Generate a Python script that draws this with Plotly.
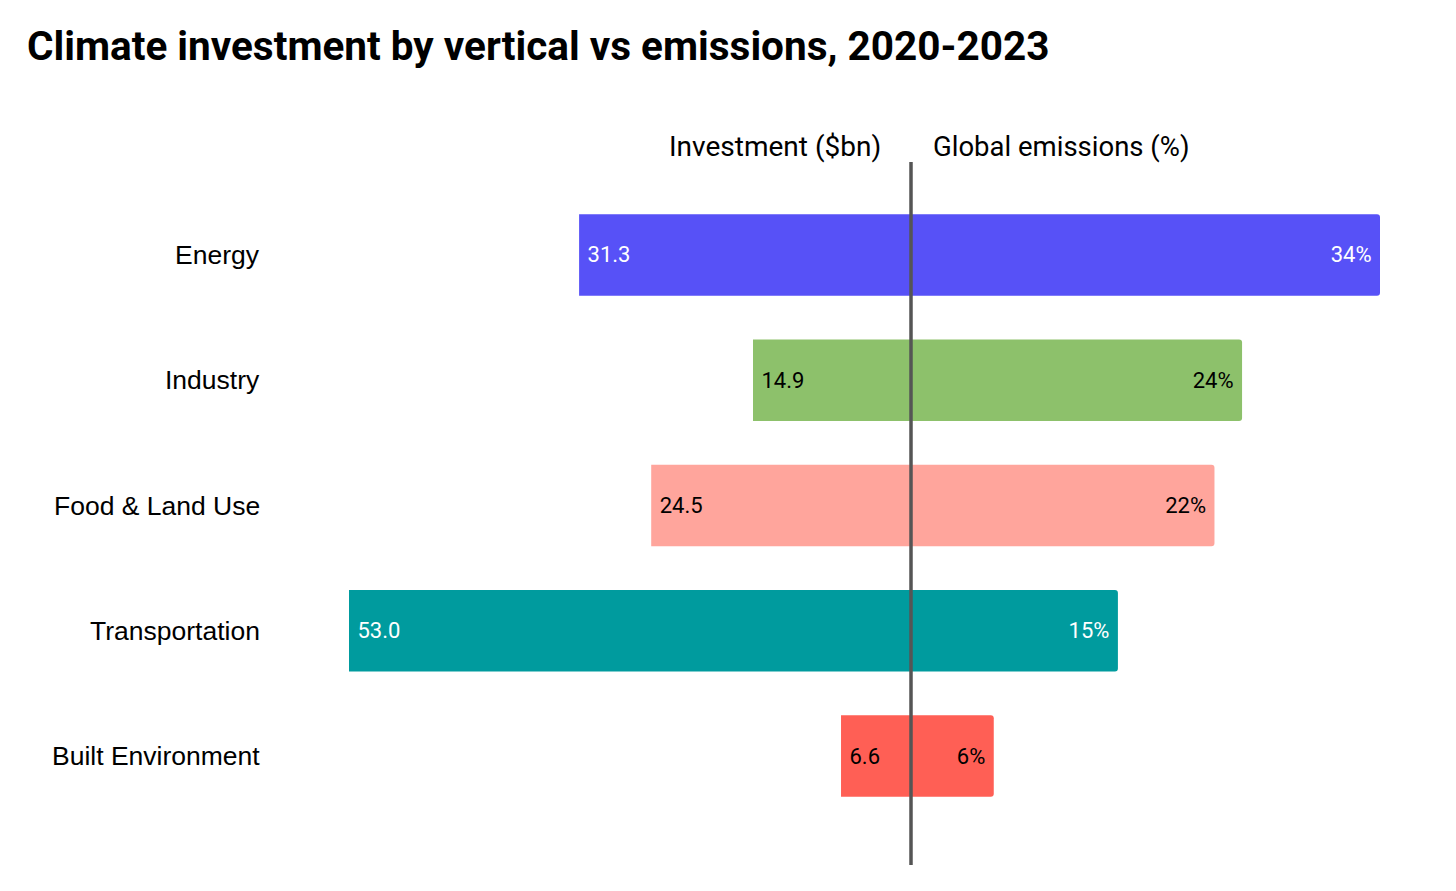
import plotly.graph_objects as go

categories = ["Energy", "Industry", "Food & Land Use", "Transportation", "Built Environment"]
investment_bn = [31.3, 14.9, 24.5, 53.0, 6.6]
emissions_pct = [34, 24, 22, 15, 6]
colors = ["#5751F7", "#8DC16B", "#FFA59C", "#009B9E", "#FF5F55"]
text_colors = ["white", "black", "black", "white", "black"]

OFF = 8  # page body margin
W, H = 1456 - OFF, 891 - OFF


def px(x):
    return (x - OFF) / W


def py(y):
    return 1 - (y - OFF) / H


CENTER = 911
left_px = 300
right_px = 1400
px_per_bn = (CENTER - 349) / 53.0
px_per_pct = (1380 - CENTER) / 34.0
slot = 125.3
y_top, y_bot = 162, 865

fig = go.Figure()
fig.add_trace(go.Bar(
    y=categories, x=investment_bn, orientation="h",
    marker=dict(color=colors, line=dict(width=0)),
    text=[f"&nbsp;{v:.1f}" for v in investment_bn], textposition="inside",
    insidetextanchor="end", textangle=0,
    textfont=dict(family="Roboto", size=22, color=text_colors),
    width=0.65, xaxis="x", yaxis="y", hoverinfo="skip",
))
fig.add_trace(go.Bar(
    y=categories, x=emissions_pct, orientation="h",
    marker=dict(color=colors, line=dict(width=0), cornerradius=3),
    text=[f"{v}%&nbsp;" for v in emissions_pct], textposition="inside",
    insidetextanchor="end", textangle=0,
    textfont=dict(family="Roboto", size=22, color=text_colors),
    width=0.65, xaxis="x2", yaxis="y", hoverinfo="skip",
))

fig.update_layout(
    width=W, height=H,
    margin=dict(l=0, r=0, t=0, b=0),
    plot_bgcolor="white", paper_bgcolor="white",
    showlegend=False,
    uniformtext=dict(mode=False),
    xaxis=dict(domain=[px(left_px), px(CENTER)], range=[(CENTER - left_px) / px_per_bn, 0],
               showgrid=False, zeroline=False, showticklabels=False),
    xaxis2=dict(domain=[px(CENTER), px(right_px)], range=[0, (right_px - CENTER) / px_per_pct],
                showgrid=False, zeroline=False, showticklabels=False, anchor="y"),
    yaxis=dict(domain=[py(y_bot), py(y_top)],
               range=[4 + (y_bot - 756) / slot, -(255 - y_top) / slot],
               showticklabels=False, showgrid=False, zeroline=False,
               type="category", categoryorder="array", categoryarray=categories),
    title=dict(text="<b>Climate investment by vertical vs emissions, 2020-2023</b>",
               x=px(27), xanchor="left", y=py(46), yanchor="middle",
               font=dict(family="Roboto", size=40.5, color="black")),
)

for cat in categories:
    fig.add_annotation(x=px(262), xref="paper", y=cat, yref="y", text=cat,
                       xanchor="right", yanchor="middle", showarrow=False,
                       font=dict(family="Liberation Sans", size=26.5, color="black"))

fig.add_annotation(x=px(883), xref="paper", y=py(146), yref="paper",
                   text="Investment ($bn)", xanchor="right", yanchor="middle",
                   showarrow=False, font=dict(family="Roboto", size=28, color="black"))
fig.add_annotation(x=px(931), xref="paper", y=py(146), yref="paper",
                   text="Global emissions (%)", xanchor="left", yanchor="middle",
                   showarrow=False, font=dict(family="Roboto", size=27.5, color="black"))

fig.add_shape(type="line", xref="paper", x0=px(CENTER), x1=px(CENTER), yref="paper",
              y0=py(y_bot), y1=py(y_top),
              line=dict(color="#555555", width=3.5), layer="above")

fig.write_html("out.html")
